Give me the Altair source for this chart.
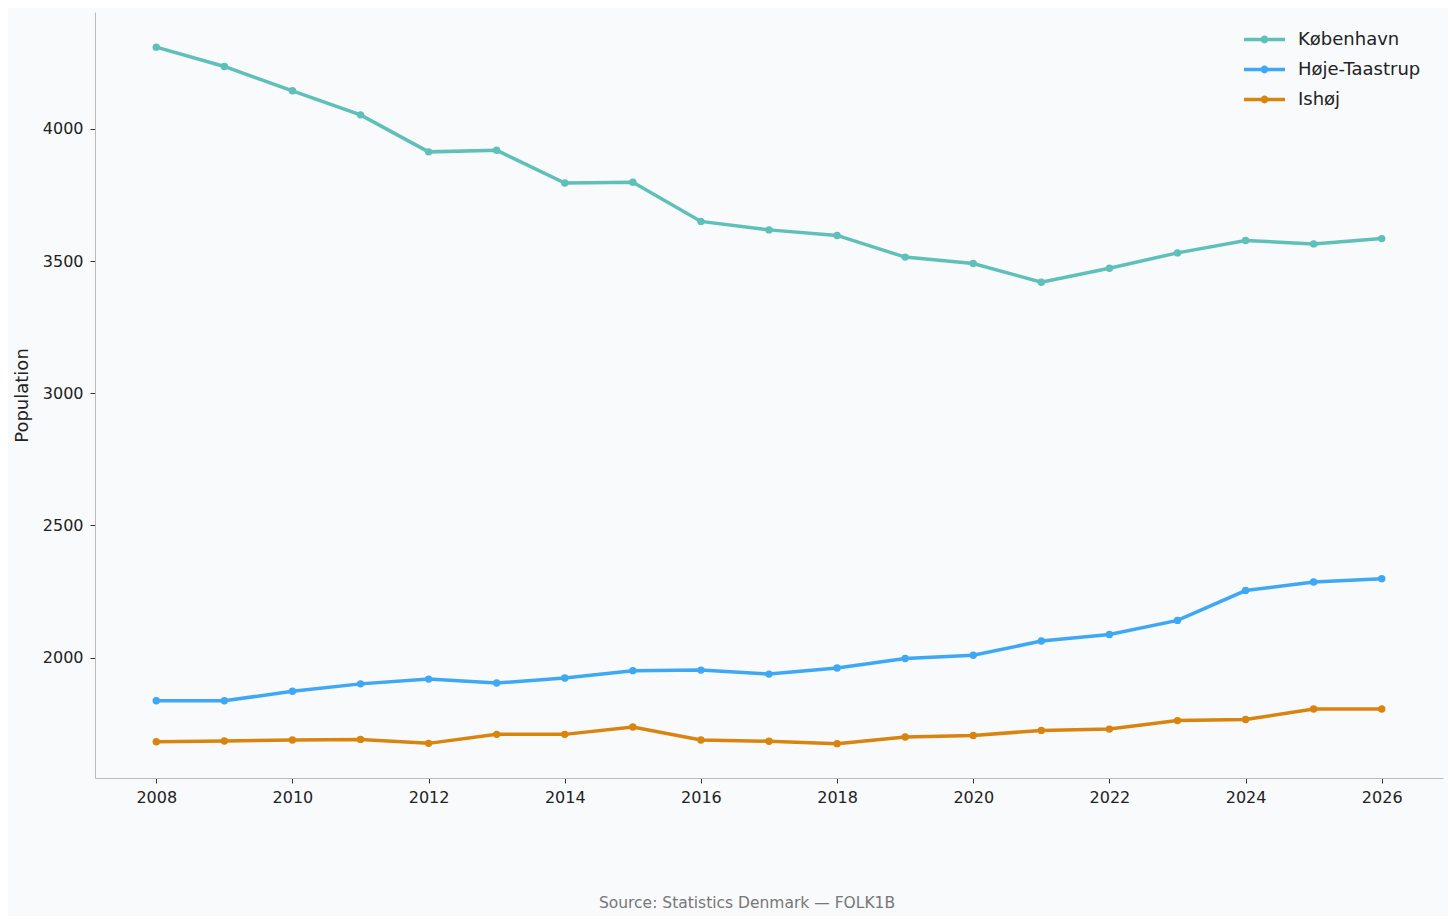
import altair as alt
import pandas as pd

years = list(range(2008, 2027))
kobenhavn = [4309, 4236, 4144, 4053, 3913, 3919, 3795, 3798, 3650, 3618,
             3597, 3515, 3491, 3420, 3473, 3531, 3578, 3565, 3585]
hoje_taastrup = [1837, 1837, 1873, 1901, 1919, 1904, 1923, 1951, 1953, 1938,
                 1961, 1997, 2009, 2063, 2088, 2141, 2254, 2286, 2299]
ishoj = [1682, 1685, 1689, 1691, 1676, 1710, 1710, 1738, 1689, 1684,
         1675, 1700, 1706, 1725, 1730, 1762, 1766, 1806, 1806]

series_names = ["København", "Høje-Taastrup", "Ishøj"]
series_colors = ["#5fbfb9", "#3ea8f4", "#d9840e"]
series_values = [kobenhavn, hoje_taastrup, ishoj]

x_ticks = list(range(2008, 2027, 2))
y_ticks = [2000, 2500, 3000, 3500, 4000]
source_text = "Source: Statistics Denmark — FOLK1B"

rows = []
for name, vals in zip(series_names, series_values):
    for y, v in zip(years, vals):
        rows.append({"Year": y, "Population": v, "Municipality": name})
df = pd.DataFrame(rows)

FONT = "DejaVu Sans"

x_enc = alt.X("Year:Q",
              scale=alt.Scale(domain=[2007.1, 2026.9], nice=False, zero=False),
              axis=alt.Axis(values=x_ticks, format="d", title=None, grid=False,
                            labelFontSize=16, labelFont=FONT, labelColor="#222222",
                            tickSize=5, tickColor="#333333", labelPadding=6,
                            domainColor="#bbbbbb", labelFlush=False))
y_enc = alt.Y("Population:Q",
              scale=alt.Scale(domain=[1545, 4442], nice=False, zero=False),
              axis=alt.Axis(values=y_ticks, format="d", title="Population", grid=False,
                            labelFontSize=16, labelFont=FONT, labelColor="#222222",
                            tickSize=5, tickColor="#333333", labelPadding=7,
                            domainColor="#bbbbbb", titleFontSize=18, titleFont=FONT,
                            titleFontWeight="normal", titleColor="#222222",
                            titleX=-64, labelFlush=False))

color_scale = alt.Scale(domain=series_names, range=series_colors)

legend_path = ("M-1,-0.09L1,-0.09L1,0.09L-1,0.09Z"
               "M-0.19,0A0.19,0.19,0,1,1,0.19,0A0.19,0.19,0,1,1,-0.19,0Z")

lines = alt.Chart(df).mark_line(strokeWidth=3.5).encode(
    x=x_enc, y=y_enc,
    color=alt.Color("Municipality:N", scale=color_scale, legend=None),
    detail="Municipality:N",
)

points = alt.Chart(df).mark_point(filled=True, size=55, opacity=1).encode(
    x=x_enc, y=y_enc,
    color=alt.Color("Municipality:N", scale=color_scale, sort=series_names,
                    legend=alt.Legend(title=None, orient="none", legendX=1149, legendY=7,
                                      symbolType=legend_path, symbolSize=1681,
                                      symbolStrokeWidth=0, symbolOpacity=1,
                                      labelFontSize=18, labelFont=FONT,
                                      labelColor="#222222", labelOffset=13,
                                      rowPadding=-20, padding=0)),
)

chart = alt.layer(lines, points).resolve_legend(color="independent").properties(
    width=1348, height=766,
    background="#f8fafc",
    padding={"left": 87, "top": 4, "right": 5, "bottom": 138},
    autosize=alt.AutoSizeParams(type="none"),
    title=alt.TitleParams(source_text, orient="bottom", anchor="middle",
                          fontSize=15.5, font=FONT, fontWeight="normal",
                          color="#777777", dx=-22, offset=91),
).configure_view(stroke=None, fill="#f8fafc").configure_axis(
    domainWidth=1, tickWidth=1
)

chart.save("out.html", embed_options={"renderer": "svg", "actions": False})
